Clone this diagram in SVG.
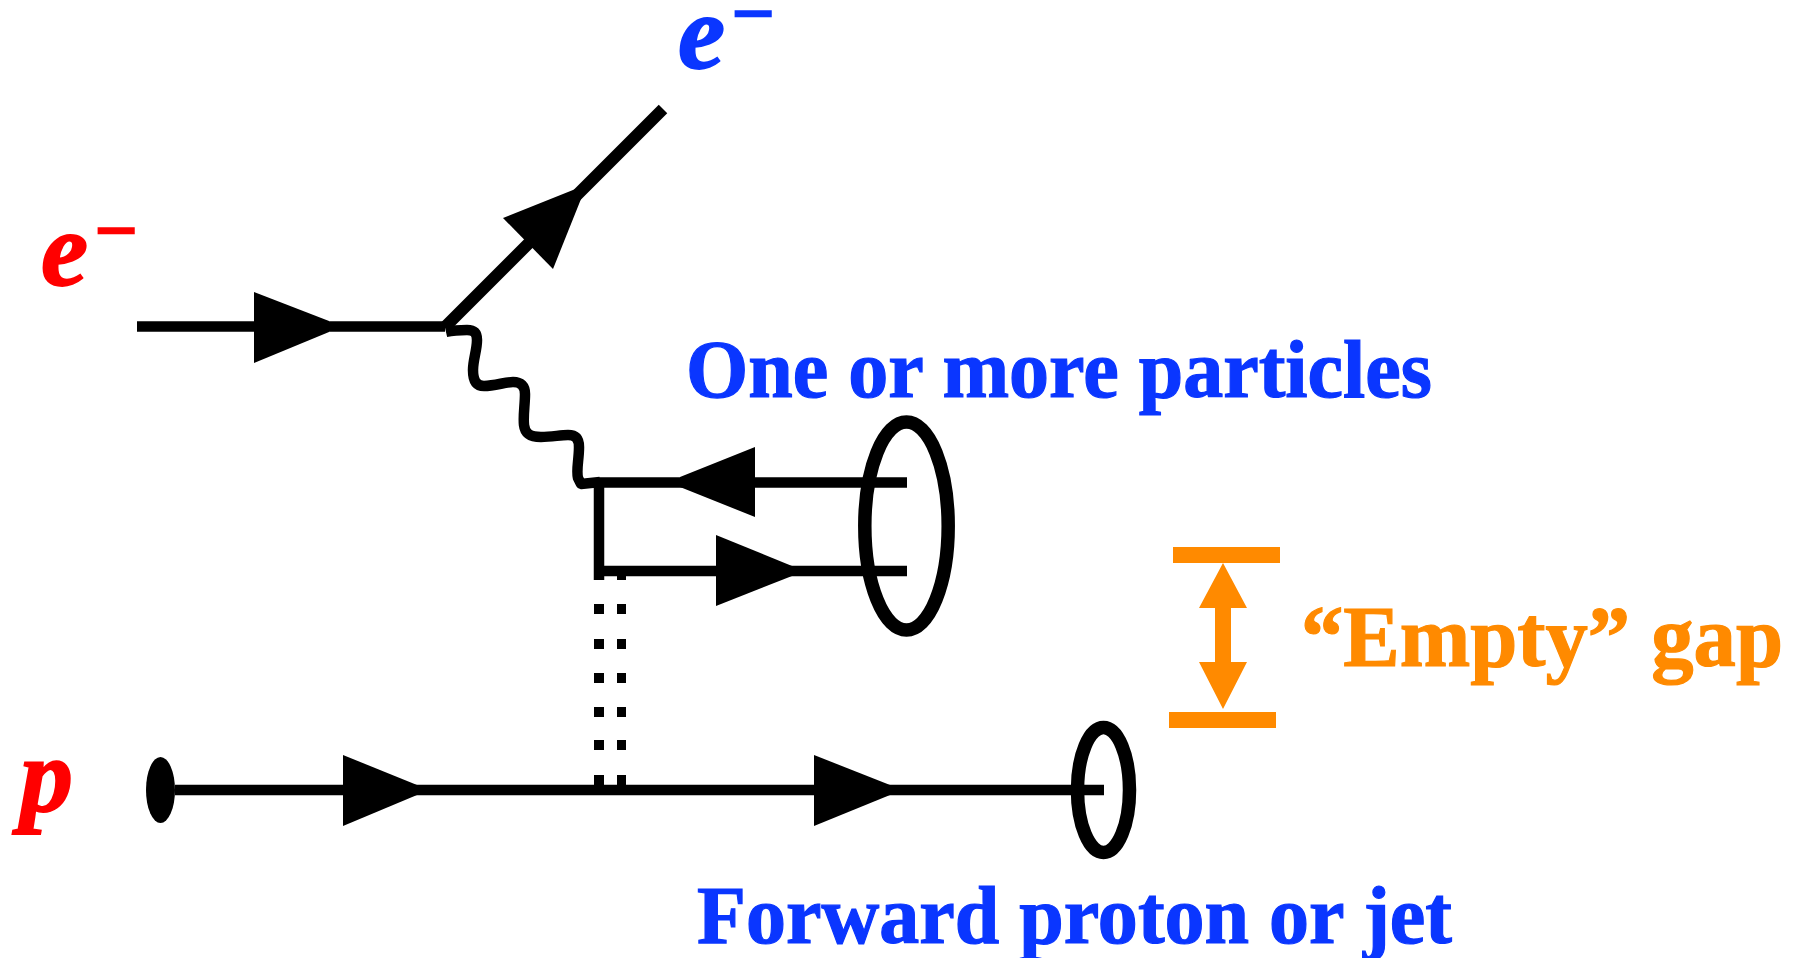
<svg xmlns="http://www.w3.org/2000/svg" width="1797" height="958" viewBox="0 0 1797 958">
<style>
.ln{stroke:#000;stroke-width:10.500;fill:none}
.diag{stroke-width:12}
.ah{fill:#000}
.dot{fill:#000}
.ring{fill:none;stroke:#000;stroke-width:13.500}
.or{fill:#ff8a00}
.lab{font-family:"Liberation Serif",serif;font-weight:700;font-size:82px;stroke-width:1.200}
.gap{font-size:86px}
.math{font-family:"Liberation Serif",serif;font-weight:700;font-style:italic;font-size:106px;stroke-width:1.800}
.minus{font-family:"Liberation Serif",serif;font-weight:700;font-size:76px;stroke-width:1.800}
.blue{fill:#0a36ff;stroke:#0a36ff}
.red{fill:#ff0000;stroke:#ff0000}
.orange{fill:#ff8a00;stroke:#ff8a00}
</style>
<rect width="1797" height="958" fill="#fff"/>
<g id="connectors">
<path class="ln" d="M137 326.500H445"/>
<path class="ln diag" d="M445 327L663 109"/>
<path class="ln" stroke-linejoin="round" d="M446 332C455 330 462 330 467 330C474 330 477 333 477 340C477 350 473 360 473 370C473 380 476 386 484 386C495 386 505 382 513 382C521 382 525 386 525 394C525 405 523 415 524 425C525 434 530 437 541 437C552 437 560 435 568 435C576 435 579 439 579 447C579 460 576 470 578 478L581 484L600 482"/>
<path class="ln" d="M597 482.500H907"/>
<path class="ln" d="M599 478V580"/>
<path class="ln" d="M604 571H907"/>
<path class="ln" d="M175 790H1104"/>
<path class="ah" d="M254 292L329 321V332L254 363Z"/>
<path class="ah" d="M578 188L503 218L553 269L583 194Z"/>
<path class="ah" d="M680 477L755 447V517L680 487Z"/>
<path class="ah" d="M716 535L792 566V576L716 606Z"/>
<path class="ah" d="M343 755L417 785V795L343 826Z"/>
<path class="ah" d="M814 755L890 785V795L814 826Z"/>
<g id="exchange-dots" class="dot">
<rect x="617" y="575" width="9" height="5"/>
<rect x="594" y="604" width="10" height="10"/><rect x="617" y="604" width="9" height="10"/>
<rect x="594" y="639" width="10" height="10"/><rect x="617" y="639" width="9" height="10"/>
<rect x="594" y="673" width="10" height="10"/><rect x="617" y="673" width="9" height="10"/>
<rect x="594" y="707" width="10" height="10"/><rect x="617" y="707" width="9" height="10"/>
<rect x="594" y="740" width="10" height="10"/><rect x="617" y="740" width="9" height="10"/>
<rect x="594" y="775" width="10" height="12"/><rect x="617" y="775" width="9" height="12"/>
</g>
</g>
<g id="incoming-proton-blob"><ellipse cx="160.500" cy="790" rx="14.500" ry="33" fill="#000"/></g>
<g id="particles-ring"><ellipse class="ring" cx="906.500" cy="526" rx="41.700" ry="104"/></g>
<g id="forward-ring"><ellipse class="ring" cx="1103.500" cy="790" rx="26" ry="62.500"/></g>
<g id="gap-marker">
<rect class="or" x="1173" y="547" width="107" height="16"/>
<rect class="or" x="1169" y="712" width="107" height="16"/>
<path class="or" d="M1223 563L1247 608H1231V662H1247L1223 709L1199 662H1215V608H1199Z"/>
</g>
<g id="label-e-out"><text class="math blue" x="678" y="68">e</text><text class="minus blue" x="731.500" y="39">−</text></g>
<g id="label-e-in"><text class="math red" x="41" y="285">e</text><text class="minus red" x="94.500" y="256">−</text></g>
<g id="label-p"><text class="math red" x="20" y="811">p</text></g>
<g id="label-particles"><text class="lab blue" x="686" y="397" textLength="746" lengthAdjust="spacingAndGlyphs">One or more particles</text></g>
<g id="label-gap"><text class="lab gap orange" x="1301" y="666" textLength="482" lengthAdjust="spacingAndGlyphs">“Empty” gap</text></g>
<g id="label-forward"><text class="lab blue" x="697" y="943" textLength="755" lengthAdjust="spacingAndGlyphs">Forward proton or jet</text></g>
</svg>
